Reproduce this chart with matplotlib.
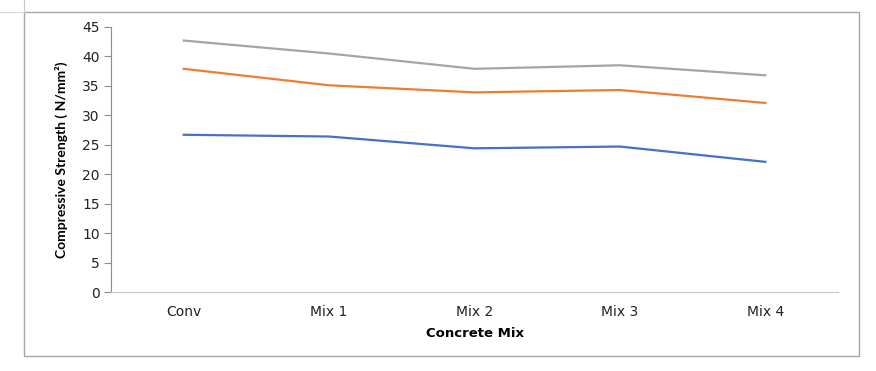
import matplotlib.pyplot as plt
from matplotlib.lines import Line2D
from matplotlib.patches import Rectangle

mixes = ['Conv', 'Mix 1', 'Mix 2', 'Mix 3', 'Mix 4']
# three series
series_top = [42.7, 40.5, 37.9, 38.5, 36.8]
series_mid = [37.9, 35.1, 33.9, 34.3, 32.1]
series_low = [26.7, 26.4, 24.4, 24.7, 22.1]
yticks = list(range(0, 50, 5))

W, H = 876, 371
fig = plt.figure(figsize=(W / 100, H / 100), dpi=100)

# outer chart frame
fig.patches.append(Rectangle((24 / W, 1 - 356 / H), (859 - 24) / W, (356 - 12) / H,
                             transform=fig.transFigure, fill=False,
                             edgecolor='#a6a6a6', linewidth=1.0))
fig.lines.append(Line2D([24 / W, 24 / W], [1 - 12 / H, 1], transform=fig.transFigure,
                        color='#c8c8c8', linewidth=0.8))
fig.lines.append(Line2D([0, 24 / W], [1 - 12 / H, 1 - 12 / H], transform=fig.transFigure,
                        color='#d8d8d8', linewidth=0.8))

ax = fig.add_axes([111 / W, 1 - 292 / H, (838 - 111) / W, (292 - 27) / H])
x = range(len(mixes))
ax.plot(x, series_low, color='#4472C4', linewidth=1.6)
ax.plot(x, series_mid, color='#ED7D31', linewidth=1.6)
ax.plot(x, series_top, color='#A5A5A5', linewidth=1.6)

ax.set_xlim(-0.5, len(mixes) - 0.5)
ax.set_ylim(0, 45)
ax.set_yticks(yticks)
ax.set_xticks(list(x))
ax.set_xticklabels(mixes)

for s in ['top', 'right']:
    ax.spines[s].set_visible(False)
ax.spines['left'].set_color('#8c8c8c')
ax.spines['bottom'].set_color('#c8c8c8')
ax.tick_params(axis='y', length=5, color='#8c8c8c', labelsize=10, labelcolor='#222222', pad=3)
ax.tick_params(axis='x', length=0, labelsize=10, labelcolor='#222222', pad=9)

ax.set_xlabel('Concrete Mix', fontsize=9.5, fontweight='bold', labelpad=6)
ax.set_ylabel('Compressive Strength ( N/mm²)', fontsize=10, fontweight='bold',
              family=['Lato', 'DejaVu Sans'], labelpad=10)

fig.savefig('out.png', dpi=100)
